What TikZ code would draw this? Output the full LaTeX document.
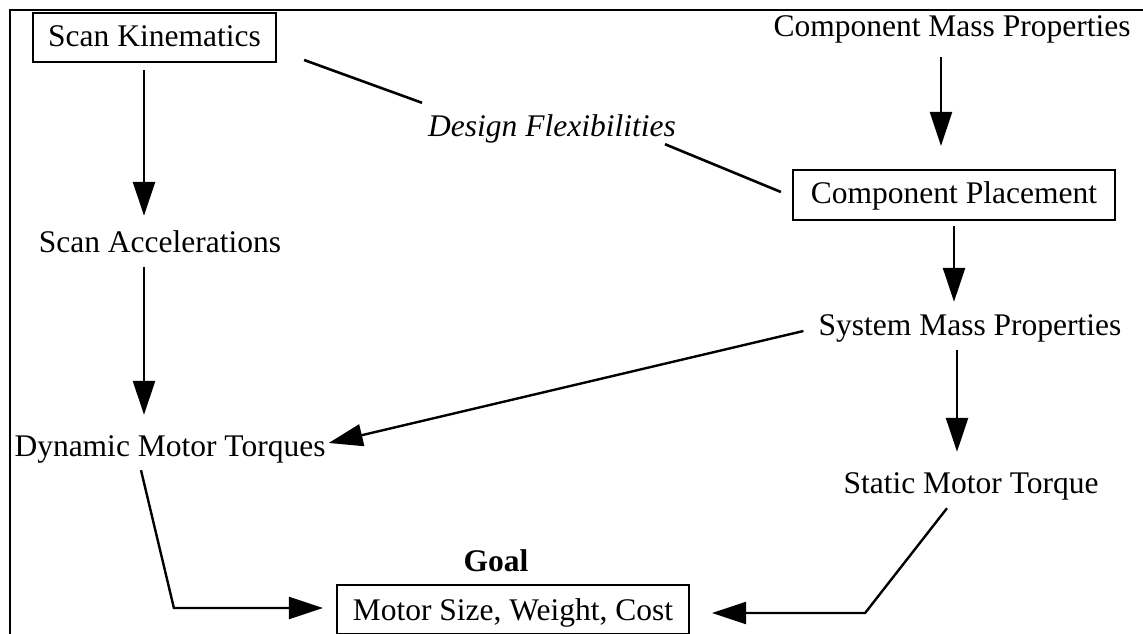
\documentclass[tikz,border=0pt]{standalone}
\usepackage{fontspec}
\setmainfont{Liberation Serif}
\usetikzlibrary{arrows.meta,calc}
\begin{document}
\begin{tikzpicture}[x=1pt,y=-1pt,
  every node/.style={font=\fontsize{31.5}{36}\selectfont},
  lbl/.style={anchor=base,inner sep=0pt,text height=22pt,text depth=7pt},
  boxnode/.style={draw,line width=2.2pt,inner sep=0pt},
  arr/.style={line width=2.4pt,-{Triangle[length=34pt,width=22pt]}},
  ln/.style={line width=2.6pt},
  frame/.style={line width=2.2pt}]
\useasboundingbox (0,0) rectangle (1143,634);
% frame (top and left edges visible)
\draw[frame] (1143,10) -- (10,10) -- (10,634);
% nodes
\node[boxnode,minimum width=243pt,text height=34pt,text depth=15pt] (sk) at (154.5,37.5) {Scan Kinematics};
\node[lbl] (cmp) at (952,37) {Component Mass Properties};
\node[lbl,font=\fontsize{31.5}{36}\selectfont\itshape] (df) at (552,136) {Design Flexibilities};
\node[boxnode,minimum width=322pt,text height=33pt,text depth=17pt] (cp) at (954,195) {Component Placement};
\node[lbl] (sa) at (160,252) {Scan Accelerations};
\node[lbl] (smp) at (970,335) {System Mass Properties};
\node[lbl] (dmt) at (170,456) {Dynamic Motor Torques};
\node[lbl] (smt) at (971,493) {Static Motor Torque};
\node[lbl,font=\fontsize{31.5}{36}\selectfont\bfseries] (gl) at (496,571) {Goal};
\node[boxnode,minimum width=352pt,text height=35pt,text depth=14pt] (goal) at (513,609.5) {Motor Size, Weight, Cost};
% connectors
\draw[arr] ($(sk.south)+(-10.5,7)$) -- ($(sa.north)+(-16,-14)$);
\draw[arr] ($(sa.south)+(-16,8)$) -- ($(dmt.north)+(-26,-19)$);
\draw[arr] ($(cmp.south)+(-11,13)$) -- ($(cp.north)+(-13,-23)$);
\draw[arr] ($(cp.south)+(0,5)$) -- ($(smp.north)+(-16,-11)$);
\draw[arr] ($(smp.south)+(-13,8)$) -- ($(smt.north)+(-14,-19)$);
\draw[arr] ($(smp.west)+(-15,3.5)$) -- ($(dmt.east)+(3,-5.5)$);
\draw[arr] ($(dmt.south)+(-29,7)$) -- ($(goal.west)+(-162,-1.5)$) -- ($(goal.west)+(-13,-1.5)$);
\draw[arr] ($(smt.south)+(-24,8)$) -- ($(goal.east)+(175,3.5)$) -- ($(goal.east)+(22,3.5)$);
\draw[ln] ($(sk.east)+(27,22.5)$) -- ($(df.north west)+(-6,-11)$);
\draw[ln] ($(df.south east)+(-11,1)$) -- ($(cp.west)+(-11,-3)$);
\end{tikzpicture}
\end{document}
